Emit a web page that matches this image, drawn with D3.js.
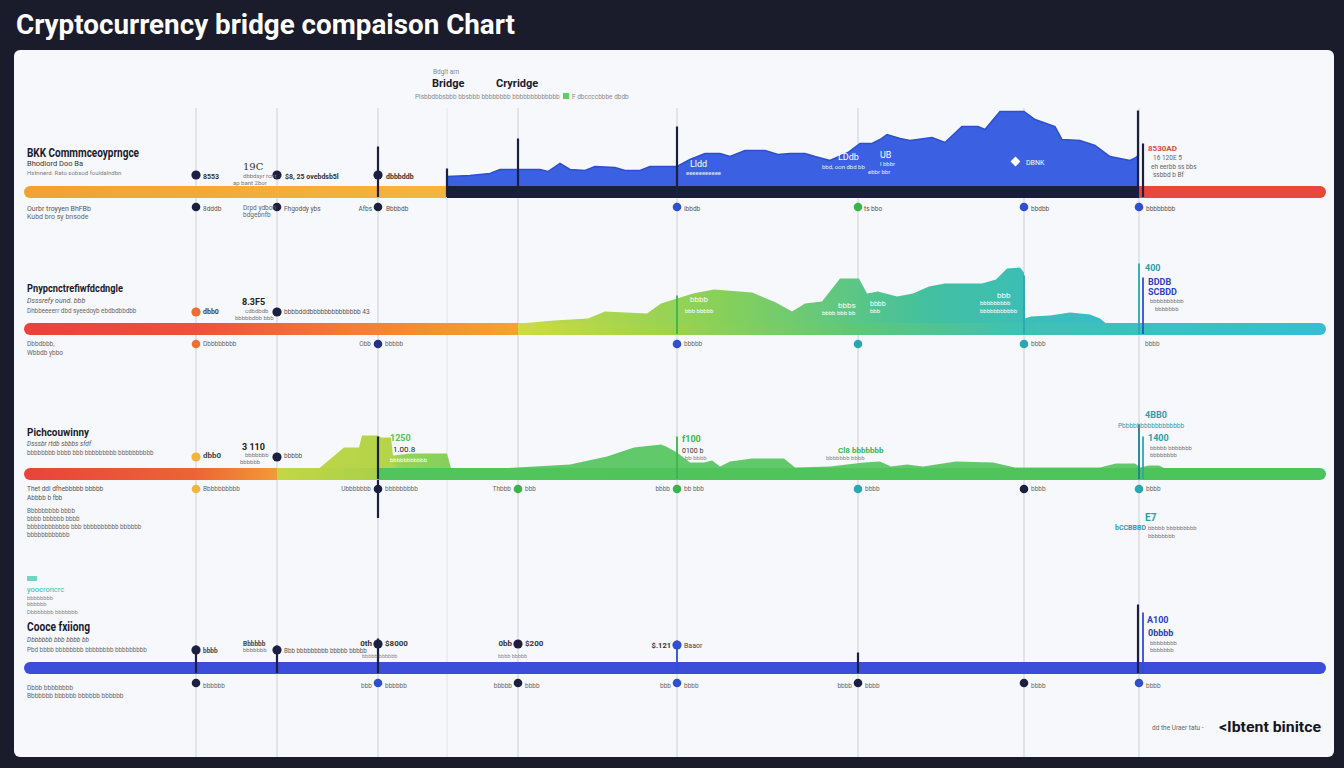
<!DOCTYPE html>
<html>
<head>
<meta charset="utf-8">
<script type="text/javascript" src="https://d3js.org/d3.v7.min.js"></script>
<style>
  body { margin: 0; background: #1a1b2b; }
  svg { display: block; font-family: Roboto, "Noto Sans", sans-serif; }
</style>
</head>
<body>
<script>
// ---- data ----------------------------------------------------------------
// timeline units along each bridge track (0 .. 1302)
const gridTicks = [172, 253, 354, 423, 494, 653, 834, 1000, 1115];
const laneNames = ["BKK Commmceoyprngce", "Pnypcnctrefiwfdcdngle", "Pichcouwinny", "Cooce fxiiong"];

// volume areas sitting on the tracks: [unit, value]
const blueArea = [[423,10],[446,11],[466,13],[476,17],[491,17],[516,17],[524,15],[536,23],[546,17],[561,16],
  [571,20],[591,19],[601,16],[616,16],[626,20],[653,20],[666,27],[681,33],[696,33],[706,30],[721,36],[741,36],
  [754,32],[766,33],[781,33],[791,30],[806,26],[824,34],[836,43],[848,43],[856,47],[863,52],[876,48],[886,46],
  [908,49],[921,44],[938,60],[954,60],[961,57],[976,75],[1000,75],[1011,67],[1031,60],[1038,47],[1056,46],
  [1071,41],[1086,30],[1106,26],[1112,29],[1115,32],[1115,0]];
const tealArea = [[495,0],[508,1],[530,3],[564,5],[581,12],[623,10],[637,20],[669,30],[690,34],[728,31],[752,21],
  [768,12],[781,20],[798,22],[816,45],[835,45],[843,30],[854,32],[873,27],[889,30],[905,37],[921,40],[958,40],
  [972,44],[983,55],[996,56],[1000,51],[1001,5],[1007,7],[1026,8],[1046,11],[1066,9],[1076,5],[1082,0]];
const limeArea = [[295,0],[320,21],[335,21],[338,33],[354,33],[357,31],[367,31],[369,13],[387,15],[423,15],[427,0]];
const greenArea = [[423,0],[476,0],[546,4],[583,12],[610,21],[637,24],[642,22],[653,16],[666,6],[680,6],[688,8],
  [696,2],[706,7],[728,10],[760,10],[771,1],[806,2],[840,6],[856,7],[867,2],[883,4],[899,2],[932,7],[969,6],
  [991,1],[1076,1],[1092,5],[1111,5],[1116,1],[1125,3],[1135,3],[1141,0]];

// where each track changes colour
const trackBreaks = [[423, 1115], [172, 354, 494], [172, 253, 354], []];

// markers above / below each track: [unit, kind]
const topDots = [
  [[172,0],[253,0],[354,0]],
  [[172,1],[253,0]],
  [[172,2],[253,0]],
  [[172,0],[253,0],[354,0],[494,0],[653,3]]
];
const bottomDots = [
  [[172,0],[253,0],[354,0],[653,3],[834,4],[1000,3],[1115,3]],
  [[172,1],[354,5],[653,3],[834,6],[1000,6]],
  [[172,2],[354,0],[494,4],[653,4],[834,6],[1000,0],[1115,6]],
  [[172,0],[354,3],[494,0],[653,3],[834,0],[1000,0],[1115,3]]
];
// vertical event spikes: [unit, value, kind]
const spikes = [
  [[354,40,0],[423,18,0],[494,48,0],[653,60,0],[1114,76,0],[1119,43,0]],
  [[653,28,4],[1000,48,6],[1115,60,6],[1119,46,3]],
  [[354,32,0],[653,32,4],[1115,44,7],[1119,32,6]],
  [[172,17,0],[253,17,0],[354,24,0],[653,22,3],[834,10,0],[1114,58,0],[1119,50,3]]
];

// ---- layout / styles -----------------------------------------------------
const W = 1344, H = 768;
const laneY = [192, 329, 474, 668];
const dotColors = ["#1c2040", "#ef6f33", "#f2b43a", "#2f4fd0", "#3bb54a", "#25307f", "#2aa8b0", "#1f7f90"];
const trackColors = [
  ["#f1a535", "#1b1e3a", "#e8473b"],
  ["#e8433b", "#ec6036", "#f08a35", "#cfdc42"],
  ["#e8433b", "#f07a35", "#bcd442", "#4cc45a"],
  ["#3b4dd9"]
];

const svg = d3.select("body").append("svg").attr("width", W).attr("height", H);
const defs = svg.append("defs");

svg.append("rect").attr("width", W).attr("height", H).attr("fill", "#1a1b2b");

// title
const title = svg.append("text").attr("x", 16).attr("y", 34)
  .attr("fill", "#ffffff").attr("font-size", 28).attr("font-weight", 700)
  .text("Cryptocurrency bridge compaison Chart");
title.attr("textLength", 499).attr("lengthAdjust", "spacingAndGlyphs");

// white panel
svg.append("rect").attr("x", 14).attr("y", 50).attr("width", 1320).attr("height", 707)
  .attr("rx", 6).attr("fill", "#f7f8fb");

const x = d3.scaleLinear().domain([0, 1302]).range([24, 1326]);

// grid lines
svg.append("g").selectAll("line").data(gridTicks).join("line")
  .attr("x1", d => x(d)).attr("x2", d => x(d))
  .attr("y1", 108).attr("y2", 757)
  .attr("stroke", d => d === 423 ? "#e6e8ec" : "#d6d9df").attr("stroke-width", 1.3);

// small text helper
function txt(g, px, py, s, opt) {
  opt = opt || {};
  return g.append("text").attr("x", px).attr("y", py)
    .attr("font-size", opt.size || 6.5)
    .attr("font-weight", opt.bold ? 700 : 400)
    .attr("font-style", opt.italic ? "italic" : null)
    .attr("font-family", opt.serif ? "DejaVu Serif, serif" : null)
    .attr("text-anchor", opt.anchor || "start")
    .attr("fill", opt.color || "#6c707c")
    .text(s);
}

// top legend
const lg = svg.append("g");
txt(lg, 433, 74, "Bdglt arn", {size: 6.5, color: "#888"});
txt(lg, 432, 87, "Bridge", {size: 11, bold: true, color: "#1a1b2e"});
txt(lg, 496, 87, "Cryridge", {size: 11, bold: true, color: "#1a1b2e"});
txt(lg, 415, 99, "Plsbbdbbsbbb bbsbbb bbbbbbbb bbbbbbbbbbbbb", {size: 6.5, color: "#888"});
lg.append("rect").attr("x", 563).attr("y", 93).attr("width", 6).attr("height", 6).attr("fill", "#5cd060");
txt(lg, 572, 99, "F dbccccbbbe dbdb", {size: 6.5, color: "#888"});

// draw each lane
const areaSets = [[{data: blueArea, fill: "#3b60e1", stroke: "#2d4fcf"}],
                  [{data: tealArea, fill: "url(#tealGrad)", stroke: "none"}],
                  [{data: limeArea, fill: "url(#limeGrad)", stroke: "none"}, {data: greenArea, fill: "#62c96a", stroke: "none"}],
                  []];

// area gradient lane 2
const tg = defs.append("linearGradient").attr("id", "tealGrad").attr("gradientUnits", "userSpaceOnUse")
  .attr("x1", x(495)).attr("x2", x(1082)).attr("y1", 0).attr("y2", 0);
[["0%", "#c5da48"], ["35%", "#86d05a"], ["70%", "#42c0a0"], ["100%", "#38bcc8"]].forEach(s =>
  tg.append("stop").attr("offset", s[0]).attr("stop-color", s[1]));
// area gradient lane 3 (lime block)
const lgr = defs.append("linearGradient").attr("id", "limeGrad").attr("gradientUnits", "userSpaceOnUse")
  .attr("x1", x(295)).attr("x2", x(427)).attr("y1", 0).attr("y2", 0);
[["0%", "#bcd548"], ["55%", "#b4d44a"], ["60%", "#98d25a"], ["100%", "#84cf5e"]].forEach(s =>
  lgr.append("stop").attr("offset", s[0]).attr("stop-color", s[1]));

laneY.forEach((cy, i) => {
  const g = svg.append("g");
  const barTop = cy - 5.5;
  const y = d3.scaleLinear().domain([0, 100]).range([barTop, barTop - 100]);

  // areas
  const area = d3.area().x(d => x(d[0])).y0(y(0)).y1(d => y(d[1]));
  areaSets[i].forEach(a => {
    g.append("path").datum(a.data).attr("d", area).attr("fill", a.fill);
    if (a.stroke !== "none") {
      g.append("path").datum(a.data.slice(0, -1)).attr("d", d3.line().x(d => x(d[0])).y(d => y(d[1])))
        .attr("fill", "none").attr("stroke", a.stroke).attr("stroke-width", 1.5);
    }
  });

  // track gradient with hard / soft breaks
  const gid = "track" + i;
  const grad = defs.append("linearGradient").attr("id", gid).attr("gradientUnits", "userSpaceOnUse")
    .attr("x1", x(0)).attr("x2", x(1302)).attr("y1", 0).attr("y2", 0);
  const pct = u => (u / 1302 * 100) + "%";
  const cols = trackColors[i], br = trackBreaks[i];
  if (i === 0) {
    grad.append("stop").attr("offset", "0%").attr("stop-color", "#f0a233");
    grad.append("stop").attr("offset", pct(br[0])).attr("stop-color", "#f5b53c");
    grad.append("stop").attr("offset", pct(br[0])).attr("stop-color", cols[1]);
    grad.append("stop").attr("offset", pct(br[1])).attr("stop-color", cols[1]);
    grad.append("stop").attr("offset", pct(br[1])).attr("stop-color", cols[2]);
    grad.append("stop").attr("offset", "100%").attr("stop-color", cols[2]);
  } else if (i === 1) {
    grad.append("stop").attr("offset", "0%").attr("stop-color", "#e8423b");
    grad.append("stop").attr("offset", pct(br[0])).attr("stop-color", "#ea5339");
    grad.append("stop").attr("offset", pct(br[1])).attr("stop-color", "#f08536");
    grad.append("stop").attr("offset", pct(br[2])).attr("stop-color", "#f5a233");
    grad.append("stop").attr("offset", pct(br[2])).attr("stop-color", "#cddb44");
    grad.append("stop").attr("offset", pct(653)).attr("stop-color", "#9ad24e");
    grad.append("stop").attr("offset", pct(834)).attr("stop-color", "#5cc878");
    grad.append("stop").attr("offset", pct(1000)).attr("stop-color", "#40c0b4");
    grad.append("stop").attr("offset", "100%").attr("stop-color", "#38bcd4");
  } else if (i === 2) {
    grad.append("stop").attr("offset", "0%").attr("stop-color", "#e8433b");
    grad.append("stop").attr("offset", pct(br[0])).attr("stop-color", "#ec6536");
    grad.append("stop").attr("offset", pct(br[1])).attr("stop-color", "#f39a36");
    grad.append("stop").attr("offset", pct(br[1])).attr("stop-color", "#c3d744");
    grad.append("stop").attr("offset", pct(br[2])).attr("stop-color", "#a9d04a");
    grad.append("stop").attr("offset", pct(br[2])).attr("stop-color", "#52c45c");
    grad.append("stop").attr("offset", "100%").attr("stop-color", "#4cc45a");
  } else {
    grad.append("stop").attr("offset", "0%").attr("stop-color", cols[0]);
    grad.append("stop").attr("offset", "100%").attr("stop-color", cols[0]);
  }
  g.append("rect").attr("x", x(0)).attr("y", cy - 6).attr("width", x(1302) - x(0)).attr("height", 12)
    .attr("rx", 6).attr("fill", "url(#" + gid + ")");

  // spikes
  g.selectAll("line.spike").data(spikes[i]).join("line").attr("class", "spike")
    .attr("x1", d => x(d[0])).attr("x2", d => x(d[0]))
    .attr("y1", d => y(d[1])).attr("y2", cy + 5)
    .attr("stroke", d => dotColors[d[2]]).attr("stroke-width", d => d[2] === 0 ? 2.2 : 1.8);

  // dots
  const lift = i === 3 ? [-18, -18, -24, -24, -23] : null;
  g.selectAll("circle.top").data(topDots[i]).join("circle").attr("class", "top")
    .attr("cx", d => x(d[0])).attr("cy", (d, k) => cy - 17 + (lift ? lift[k] + 17 : 0))
    .attr("r", 4.6).attr("fill", d => dotColors[d[1]]);
  g.selectAll("circle.bot").data(bottomDots[i]).join("circle").attr("class", "bot")
    .attr("cx", d => x(d[0])).attr("cy", cy + 15)
    .attr("r", 4.3).attr("fill", d => dotColors[d[1]]);
});

// ---- annotations ---------------------------------------------------------
const an = svg.append("g");
const dark = "#1a1b2e";

// lane 1
txt(an, 27, 157, laneNames[0], {size: 12, bold: true, color: dark}).attr("textLength", 112).attr("lengthAdjust", "spacingAndGlyphs");
txt(an, 27, 166, "Bhodlord Doo Ba", {size: 7.5, color: "#333"});
txt(an, 27, 175, "Hstnnerd. Rato sobsod fouldalndbn", {size: 6, color: "#7a7e88"});
txt(an, 27, 211, "Ourbr troyyen BhFBb", {size: 7, color: "#555"});
txt(an, 27, 219, "Kubd bro sy bnsode", {size: 7, color: "#666"});
txt(an, 203, 179, "8553", {size: 7, bold: true, color: "#333"});
txt(an, 285, 179, "$8, 25 ovebdsb5l", {size: 7, bold: true, color: "#333"});
txt(an, 386, 179, "dbbbddb", {size: 7, bold: true, color: "#333"});
txt(an, 243, 170, "19C", {size: 10, serif: true, color: "#333"});
txt(an, 243, 178, "dbbdsyr rcnt", {size: 6, color: "#777"});
txt(an, 233, 185, "ap bant 2bor", {size: 6, color: "#777"});
txt(an, 203, 211, "8dddb", {size: 6.5, color: "#555"});
txt(an, 284, 211, "Fhgoddy ybs", {size: 6.5, color: "#555"});
txt(an, 386, 211, "Bbbbdb", {size: 6.5, color: "#555"});
txt(an, 372, 211, "Afbs", {size: 6.5, color: "#555", anchor: "end"});
txt(an, 243, 210, "Drpd ydbon", {size: 6.5, color: "#666"});
txt(an, 243, 217, "bdgebnfb", {size: 6.5, color: "#666"});
txt(an, 684, 211, "ibbdb", {size: 6.5, color: "#555"});
txt(an, 864, 211, "ts bbo", {size: 6.5, color: "#555"});
txt(an, 1031, 211, "bbdbb", {size: 6.5, color: "#555"});
txt(an, 1146, 211, "bbbbbbbb", {size: 6.5, color: "#555"});
txt(an, 690, 167, "Lldd", {size: 9, color: "#fff"});
txt(an, 686, 175, "eeeeeeeeeee", {size: 6, color: "#e8ecff"});
txt(an, 838, 160, "LDdb", {size: 9, color: "#fff"});
txt(an, 822, 169, "bbd, oon dbd bb", {size: 6, color: "#e8ecff"});
txt(an, 880, 158, "UB", {size: 9, color: "#fff"});
txt(an, 880, 166, "l bbbr", {size: 6, color: "#e8ecff"});
txt(an, 868, 174, "ebbr bbr", {size: 6, color: "#e8ecff"});
an.append("rect").attr("x", 1012).attr("y", 158).attr("width", 7).attr("height", 7)
  .attr("transform", "rotate(45 1015.5 161.5)").attr("fill", "#fff");
txt(an, 1026, 165, "DBNK", {size: 7, color: "#fff"});
txt(an, 1148, 151, "8530AD", {size: 8, bold: true, color: "#e04a3c"});
txt(an, 1153, 160, "16 120E 5", {size: 6.5, color: "#666"});
txt(an, 1151, 169, "eh eerbb ss bbs", {size: 6.5, color: "#666"});
txt(an, 1153, 177, "ssbbd b Bf", {size: 6.5, color: "#666"});

// lane 2
txt(an, 27, 292, laneNames[1], {size: 11, bold: true, color: dark}).attr("textLength", 96).attr("lengthAdjust", "spacingAndGlyphs");
txt(an, 27, 303, "Dsssrefy ound. bbb", {size: 7, italic: true, color: "#555"});
txt(an, 27, 313, "Dhbbeeeerr dbd syeedoyb ebdbdbbdbb", {size: 6.3, color: "#666"});
txt(an, 203, 314, "dbb0", {size: 7, bold: true, color: "#444"});
txt(an, 284, 314, "bbbbdddbbbbbbbbbbbbbb 43", {size: 6.5, color: "#555"});
txt(an, 242, 305, "8.3F5", {size: 9, bold: true, color: "#222"});
txt(an, 245, 313, "cdbdbdb", {size: 6, color: "#777"});
txt(an, 235, 320, "bbbbbdbb bbb", {size: 6, color: "#777"});
txt(an, 27, 346, "Dbbdbbb,", {size: 6.5, color: "#666"});
txt(an, 27, 355, "Wbbdb ybbo", {size: 6.5, color: "#666"});
txt(an, 203, 346, "Dbbbbbbbb", {size: 6.5, color: "#666"});
txt(an, 371, 346, "Obb", {size: 6.5, color: "#666", anchor: "end"});
txt(an, 385, 346, "bbbbb", {size: 6.5, color: "#666"});
txt(an, 684, 346, "bbbbb", {size: 6.5, color: "#666"});
txt(an, 1031, 346, "bbbb", {size: 6.5, color: "#666"});
txt(an, 1145, 346, "bbbb", {size: 6.5, color: "#666"});
txt(an, 690, 302, "bbbb", {size: 8, color: "#fff"});
txt(an, 685, 313, "bbb bbbbb", {size: 6, color: "#fff"});
txt(an, 838, 308, "bbbs", {size: 8, color: "#fff"});
txt(an, 822, 315, "bbbb bbb bb", {size: 6, color: "#fff"});
txt(an, 870, 306, "bbbb", {size: 7, color: "#fff"});
txt(an, 870, 313, "bbb", {size: 6, color: "#fff"});
txt(an, 997, 298, "bbb", {size: 8, color: "#fff"});
txt(an, 980, 305, "bbbbbbbbb", {size: 6, color: "#fff"});
txt(an, 980, 313, "bbbbbbbbbbb", {size: 6, color: "#fff"});
txt(an, 1145, 271, "400", {size: 9, bold: true, color: "#2a9fa8"});
txt(an, 1148, 285, "BDDB", {size: 9, bold: true, color: "#2d3fbf"});
txt(an, 1148, 295, "SCBDD", {size: 9, bold: true, color: "#2d3fbf"});
txt(an, 1150, 303, "bbbbbbbbbb", {size: 6, color: "#777"});
txt(an, 1155, 311, "bbbbbbb", {size: 6, color: "#777"});

// lane 3
txt(an, 27, 436, laneNames[2], {size: 11, bold: true, color: dark}).attr("textLength", 62).attr("lengthAdjust", "spacingAndGlyphs");
txt(an, 27, 446, "Dsssbr rtdb sbbbs sfdf", {size: 6.5, italic: true, color: "#555"});
txt(an, 27, 455, "bbbbbbbb bbbb bbb bbbbbbbbb bbbbbbbbbb", {size: 6.3, color: "#666"});
txt(an, 203, 458, "dbb0", {size: 8, bold: true, color: "#444"});
txt(an, 284, 458, "bbbbb", {size: 6.5, color: "#555"});
txt(an, 242, 450, "3 110", {size: 9, bold: true, color: "#222"});
txt(an, 245, 457, "bbbbbbb", {size: 6, color: "#777"});
txt(an, 240, 464, "bbbbbb", {size: 6, color: "#777"});
txt(an, 390, 441, "1250", {size: 9, bold: true, color: "#4cc45a"});
txt(an, 393, 452, "1.00.8", {size: 8, color: "#222"});
txt(an, 390, 462, "bbbbbbbbbbb", {size: 6, color: "#fff"});
txt(an, 27, 491, "Thet ddl dfhebbbbb bbbbb", {size: 6.5, color: "#555"});
txt(an, 27, 500, "Abbbb b fbb", {size: 6.5, color: "#555"});
txt(an, 27, 513, "Bbbbbbbbb bbbb", {size: 6.3, color: "#666"});
txt(an, 27, 521, "bbbb bbbbbb bbbb", {size: 6.3, color: "#666"});
txt(an, 27, 529, "bbbbbbbbbbbb bbb bbbbbbbbbb bbbbbb", {size: 6.3, color: "#666"});
txt(an, 27, 537, "bbbbbbbbbbbb", {size: 6.3, color: "#666"});
txt(an, 203, 491, "Bbbbbbbbbb", {size: 6.5, color: "#666"});
txt(an, 371, 491, "Ubbbbbbb", {size: 6.5, color: "#666", anchor: "end"});
txt(an, 385, 491, "bbbbbbbbb", {size: 6.5, color: "#666"});
txt(an, 511, 491, "Thbbb", {size: 6.5, color: "#666", anchor: "end"});
txt(an, 525, 491, "bbb", {size: 6.5, color: "#666"});
txt(an, 670, 491, "bbbb", {size: 6.5, color: "#666", anchor: "end"});
txt(an, 684, 491, "bb bbb", {size: 6.5, color: "#666"});
txt(an, 865, 491, "bbbb", {size: 6.5, color: "#666"});
txt(an, 1031, 491, "bbbb", {size: 6.5, color: "#666"});
txt(an, 1146, 491, "bbbb", {size: 6.5, color: "#666"});
txt(an, 682, 442, "f100", {size: 9, bold: true, color: "#3bb54a"});
txt(an, 682, 453, "0100 b", {size: 7, color: "#333"});
txt(an, 685, 460, "bb bbbb", {size: 6, color: "#888"});
txt(an, 838, 453, "Cl8 bbbbbbb", {size: 8, bold: true, color: "#3bb54a"});
txt(an, 826, 460, "bbbbbbb bbbb", {size: 6, color: "#888"});
txt(an, 1145, 418, "4BB0", {size: 9, bold: true, color: "#2a9fa8"});
txt(an, 1118, 428, "Pbbbbbbbbbbbbbbbbb", {size: 6.5, color: "#2a9fa8"});
txt(an, 1148, 441, "1400", {size: 9, bold: true, color: "#2a9fa8"});
txt(an, 1150, 450, "bbbbb bbbbbbb", {size: 6, color: "#777"});
txt(an, 1150, 457, "bbbbbbbb", {size: 6, color: "#777"});
txt(an, 1145, 521, "E7", {size: 10, bold: true, color: "#2a9fa8"});
txt(an, 1115, 530, "bCCBBBD", {size: 7, bold: true, color: "#2a9fa8"});
txt(an, 1148, 530, "bbbbb bbbbbbbbb", {size: 6, color: "#777"});
txt(an, 1148, 538, "bbbbbbbb", {size: 6, color: "#777"});
// line below lane 3 marker at 378
an.append("line").attr("x1", x(354)).attr("x2", x(354)).attr("y1", 480).attr("y2", 518)
  .attr("stroke", "#1c2040").attr("stroke-width", 2.2);

// lane 4
an.append("rect").attr("x", 27).attr("y", 576).attr("width", 10).attr("height", 5).attr("fill", "#6fd6c6");
txt(an, 27, 592, "yoocroncrc", {size: 7.5, color: "#2fb8a8"});
txt(an, 27, 600, "bbbbbbbb", {size: 5.8, color: "#888"});
txt(an, 27, 606, "bbbbbb", {size: 5.8, color: "#888"});
txt(an, 27, 614, "Dbbbbbbb bbbbbbb", {size: 5.8, color: "#888"});
txt(an, 27, 631, laneNames[3], {size: 12.5, bold: true, color: dark}).attr("textLength", 63).attr("lengthAdjust", "spacingAndGlyphs");
txt(an, 27, 642, "Dbbbbbb bbb bbbb bb", {size: 6.5, italic: true, color: "#555"});
txt(an, 27, 652, "Pbd bbbb bbbbbbbb bbbbbbbb bbbbbbbbb", {size: 6.3, color: "#666"});
txt(an, 203, 653, "bbbb", {size: 6.5, bold: true, color: "#444"});
txt(an, 243, 646, "Bbbbbb", {size: 6.5, bold: true, color: "#444"});
txt(an, 243, 652, "bbbbbbb", {size: 6, color: "#777"});
txt(an, 284, 653, "Bbb bbbbbbbbb bbbbb bbbbb", {size: 6.3, color: "#555"});
txt(an, 372, 646, "0th", {size: 8, bold: true, color: "#333", anchor: "end"});
txt(an, 385, 646, "$8000", {size: 8, bold: true, color: "#333"});
txt(an, 362, 658, "bbbbb   bbbbbb", {size: 5.5, color: "#888"});
txt(an, 512, 646, "0bb", {size: 8, bold: true, color: "#333", anchor: "end"});
txt(an, 525, 646, "$200", {size: 8, bold: true, color: "#333"});
txt(an, 498, 658, "bbbb   bbbbb", {size: 5.5, color: "#888"});
txt(an, 671, 648, "$.121", {size: 7.5, bold: true, color: "#333", anchor: "end"});
txt(an, 684, 648, "Baaor", {size: 7, color: "#444"});
txt(an, 27, 690, "Dbbb bbbbbbbb", {size: 6.5, color: "#666"});
txt(an, 27, 698, "Bbbbbbb bbbbbb bbbbbb bbbbbb", {size: 6.5, color: "#666"});
txt(an, 203, 688, "bbbbbb", {size: 6.5, color: "#666"});
txt(an, 372, 688, "bbb", {size: 6.5, color: "#666", anchor: "end"});
txt(an, 385, 688, "bbbbbb", {size: 6.5, color: "#666"});
txt(an, 512, 688, "bbbbb", {size: 6.5, color: "#666", anchor: "end"});
txt(an, 525, 688, "bbbb", {size: 6.5, color: "#666"});
txt(an, 671, 688, "bbb", {size: 6.5, color: "#666", anchor: "end"});
txt(an, 684, 688, "bbbb", {size: 6.5, color: "#666"});
txt(an, 852, 688, "bbbb", {size: 6.5, color: "#666", anchor: "end"});
txt(an, 865, 688, "bbbb", {size: 6.5, color: "#666"});
txt(an, 1031, 688, "bbbb", {size: 6.5, color: "#666"});
txt(an, 1146, 688, "bbbb", {size: 6.5, color: "#666"});
txt(an, 1147, 623, "A100", {size: 9, bold: true, color: "#2d3fbf"});
txt(an, 1148, 636, "0bbbb", {size: 9, bold: true, color: "#2d3fbf"});
txt(an, 1150, 645, "bbbbbbbb", {size: 6, color: "#777"});
txt(an, 1150, 652, "bbbbbbb", {size: 6, color: "#777"});

// footer
txt(an, 1152, 730, "dd the Uraer tatu -", {size: 6.5, color: "#666"});
txt(an, 1219, 732, "<\u0406btent binitce", {size: 15.5, bold: true, color: "#15161f"})
  .attr("textLength", 102).attr("lengthAdjust", "spacingAndGlyphs");
</script>
</body>
</html>
